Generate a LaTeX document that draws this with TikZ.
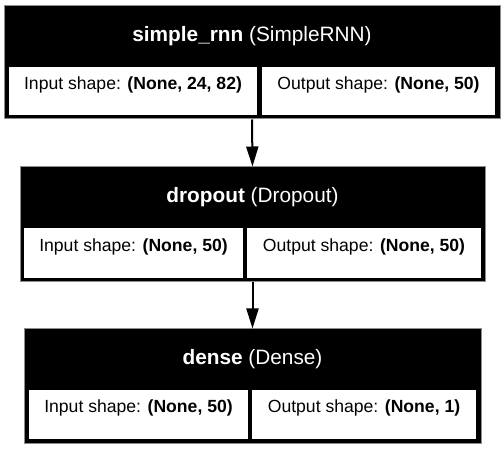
\documentclass[tikz,border=0pt]{standalone}
\usepackage{fontspec}
\setmainfont{Liberation Sans}
\usetikzlibrary{arrows.meta,fit}
\begin{document}
\begin{tikzpicture}[x=0.75pt,y=-0.75pt]
\tikzset{
 layer/.style={draw=black!45, fill=black, line width=0.75pt, inner sep=0pt},
 cell/.style={fill=white, draw=none, inner sep=0pt, font=\fontsize{13.2}{15}\selectfont},
 ttl/.style={text=white, inner sep=0pt, font=\fontsize{15.6}{18}\selectfont},
 flow/.style={line width=1.5pt, -{Triangle[length=15pt,width=9pt]}}
}
\useasboundingbox[fill=white] (0,0) rectangle (504,449);
% layer 1
\node[layer, fit={(4,6) (500,119)}] (l1) {};
\node[ttl] (t1) at (252,36) {\textbf{simple\_rnn} (SimpleRNN)};
\node[cell, fit={(9,67) (257,115)}] (i1) {Input shape: \textbf{(None, 24, 82)}};
\node[cell, fit={(262,67) (495,115)}] (o1) {Output shape: \textbf{(None, 50)}};
% layer 2
\node[layer, fit={(20,167) (485,282)}] (l2) {};
\node[ttl] (t2) at (252.5,197) {\textbf{dropout} (Dropout)};
\node[cell, fit={(24,228) (243,278)}] (i2) {Input shape: \textbf{(None, 50)}};
\node[cell, fit={(247,228) (481,278)}] (o2) {Output shape: \textbf{(None, 50)}};
% layer 3
\node[layer, fit={(24,329) (481,443)}] (l3) {};
\node[ttl] (t3) at (252.5,359) {\textbf{dense} (Dense)};
\node[cell, fit={(29,390) (248,439)}] (i3) {Input shape: \textbf{(None, 50)}};
\node[cell, fit={(252,390) (476,439)}] (o3) {Output shape: \textbf{(None, 1)}};
% connectors
\draw[flow] (l1.south) -- (l2.north);
\draw[flow] (l2.south) -- (l3.north);
\end{tikzpicture}
\end{document}
